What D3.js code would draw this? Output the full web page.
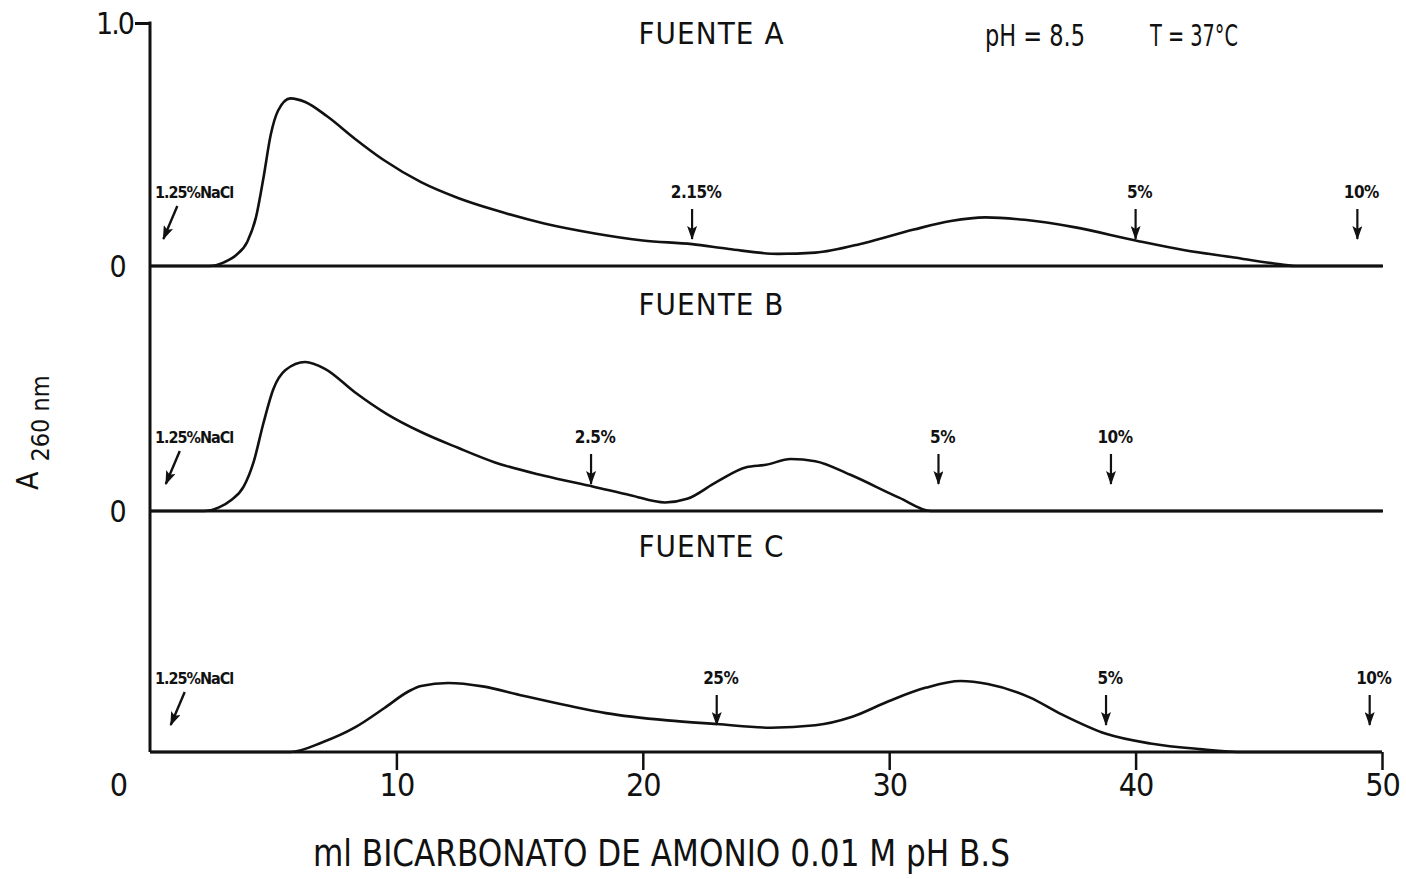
<!DOCTYPE html>
<html lang="es">
<head>
<meta charset="UTF-8">
<title>Fuentes A, B, C - A 260 nm</title>
<script src="https://d3js.org/d3.v7.min.js"></script>
<style>
  html, body { margin: 0; padding: 0; background: #fff; }
  svg text { font-family: "Liberation Sans Narrow", "DejaVu Sans Condensed", "Liberation Sans", sans-serif; fill: #111; }
  .mark { font-weight: bold; }
</style>
</head>
<body>
<div id="chart"></div>
<script>
// ml of eluent vs absorbance at 260 nm
const sourceA = [[0,0],[2.4,0],[3.0,0.015],[3.5,0.045],[3.95,0.1],[4.3,0.2],[4.6,0.36],[4.9,0.54],[5.2,0.64],[5.7,0.69],[6.3,0.675],[7.2,0.615],[8.3,0.525],[9.5,0.435],[11,0.345],[12.5,0.28],[14,0.23],[16,0.175],[18,0.135],[20,0.105],[22,0.09],[23.5,0.07],[25.5,0.05],[27,0.055],[29,0.095],[31,0.15],[32.5,0.185],[33.9,0.2],[35.5,0.19],[37.5,0.16],[40,0.105],[42,0.065],[44,0.035],[45.5,0.012],[46.5,0],[50,0]];
const sourceB = [[0,0],[2.2,0],[2.8,0.015],[3.3,0.045],[3.8,0.1],[4.2,0.2],[4.6,0.36],[5.0,0.5],[5.5,0.58],[6.3,0.613],[7.1,0.585],[8.3,0.49],[9.6,0.4],[11,0.325],[12.5,0.26],[14,0.2],[16,0.145],[18,0.1],[19.5,0.065],[20.9,0.035],[21.8,0.05],[23,0.12],[24.2,0.18],[25,0.19],[26,0.214],[27,0.205],[28.4,0.15],[30.4,0.055],[31.7,0],[50,0]];
const sourceC = [[0,0],[5.7,0],[7,0.04],[8.3,0.1],[9.5,0.18],[10.5,0.25],[11,0.272],[12.1,0.284],[13.5,0.27],[15,0.235],[17,0.19],[18.5,0.16],[21,0.13],[23,0.115],[25.2,0.1],[27,0.11],[28.5,0.145],[30,0.21],[31.5,0.265],[32.9,0.292],[34,0.28],[35.7,0.225],[37,0.155],[38.8,0.075],[40.6,0.035],[42.6,0.012],[44.4,0],[50,0]];

const panelNames = ["FUENTE A", "FUENTE B", "FUENTE C"];
const panelData = [sourceA, sourceB, sourceC];

// arrow marks: label and ml position
const marksA = [["1.25%NaCl", 0.5], ["2.15%", 22], ["5%", 40], ["10%", 49]];
const marksB = [["1.25%NaCl", 0.6], ["2.5%", 17.9], ["5%", 32], ["10%", 39]];
const marksC = [["1.25%NaCl", 0.8], ["25%", 23], ["5%", 38.8], ["10%", 49.5]];
const panelMarks = [marksA, marksB, marksC];

const xTicks = [0, 10, 20, 30, 40, 50];
const xLabel = "ml BICARBONATO DE AMONIO 0.01 M pH B.S";

const W = 1406, H = 879;
const x0 = 150, x1 = 1382;
const bases = [266, 511, 752];   // baseline of each panel
const titleY = [44, 315, 557];
const unit = 243;                // px for 1.0 absorbance

const svg = d3.select("#chart").append("svg")
  .attr("width", W).attr("height", H);

svg.append("defs").append("marker")
  .attr("id", "head")
  .attr("viewBox", "0 0 14 10")
  .attr("refX", 13).attr("refY", 5)
  .attr("markerWidth", 14).attr("markerHeight", 10)
  .attr("markerUnits", "userSpaceOnUse")
  .attr("orient", "auto")
  .append("path").attr("d", "M0,0 L3,5 L0,10 L14,5 Z").attr("fill", "#111");

const x = d3.scaleLinear().domain([0, 50]).range([x0, x1]);
const ys = bases.map(b => d3.scaleLinear().domain([0, 1]).range([b, b - unit]));

// left axis line, one spine for all three panels
svg.append("line")
  .attr("x1", x0).attr("x2", x0)
  .attr("y1", ys[0](1) - 1.5).attr("y2", bases[2])
  .attr("stroke", "#111").attr("stroke-width", 3);

// top tick 1.0
svg.append("g")
  .attr("transform", `translate(${x0},0)`)
  .call(d3.axisLeft(ys[0]).tickValues([1]).tickSize(15).tickFormat(d3.format(".1f")))
  .call(g => g.select(".domain").remove())
  .call(g => g.selectAll("line").attr("stroke", "#111").attr("stroke-width", 3))
  .call(g => g.selectAll("text").attr("x", -17).attr("dy", "0.36em")
     .attr("font-size", 30).attr("font-family", null).attr("letter-spacing", -2));

// zero labels of panels A and B
bases.slice(0, 2).forEach(b => {
  svg.append("text").attr("x", 118).attr("y", b).attr("dy", "0.36em")
    .attr("text-anchor", "middle").attr("font-size", 30).text("0");
});

// bottom axis
svg.append("g")
  .attr("transform", `translate(0,${bases[2]})`)
  .call(d3.axisBottom(x).tickValues(xTicks).tickSize(18).tickFormat(d3.format("d")))
  .call(g => g.select(".domain").attr("stroke", "#111").attr("stroke-width", 3).attr("d", `M${x0},0H${x1}`))
  .call(g => g.selectAll(".tick line").attr("stroke", "#111").attr("stroke-width", 2.5))
  .call(g => g.selectAll(".tick").filter(d => d === 0).select("line").remove())
  .call(g => g.selectAll(".tick").filter(d => d === 0).select("text").attr("x", 118 - x0))
  .call(g => g.selectAll(".tick text").attr("y", 32).attr("dy", "0.36em")
     .attr("font-size", 32).attr("font-family", null).attr("letter-spacing", -1));

// baselines of panels A and B
bases.slice(0, 2).forEach(b => {
  svg.append("line").attr("x1", x0).attr("x2", x1 + 1).attr("y1", b).attr("y2", b)
    .attr("stroke", "#111").attr("stroke-width", 3);
});

const line = d3.line().curve(d3.curveMonotoneX);

panelData.forEach((data, i) => {
  const y = ys[i];
  svg.append("path")
    .attr("d", line.x(d => x(d[0])).y(d => y(d[1]))(data))
    .attr("fill", "none").attr("stroke", "#111").attr("stroke-width", 2.6)
    .attr("stroke-linejoin", "round");

  // panel title
  svg.append("text")
    .attr("x", 711).attr("y", titleY[i])
    .attr("text-anchor", "middle").attr("font-size", 31)
    .attr("textLength", 145).attr("lengthAdjust", "spacing")
    .text(panelNames[i]);

  // arrows and labels
  panelMarks[i].forEach(([lab, ml], k) => {
    const b = bases[i];
    const xp = x(ml);
    if (k === 0) {
      svg.append("line").attr("x1", xp + 15).attr("y1", b - 60).attr("x2", xp + 1).attr("y2", b - 27)
        .attr("stroke", "#111").attr("stroke-width", 2.4).attr("marker-end", "url(#head)");
      svg.append("text").attr("class", "mark").attr("x", 155).attr("y", b - 68)
        .attr("font-size", 16).attr("letter-spacing", -1).text(lab);
    } else {
      svg.append("line").attr("x1", xp).attr("y1", b - 57).attr("x2", xp).attr("y2", b - 27)
        .attr("stroke", "#111").attr("stroke-width", 2.2).attr("marker-end", "url(#head)");
      svg.append("text").attr("class", "mark").attr("x", xp + 4).attr("y", b - 68)
        .attr("text-anchor", "middle").attr("font-size", 17).attr("letter-spacing", -0.5).text(lab);
    }
  });
});

// conditions
svg.append("text").attr("x", 985).attr("y", 46).attr("font-size", 31)
  .attr("textLength", 100).attr("lengthAdjust", "spacingAndGlyphs").text("pH = 8.5");
svg.append("text").attr("x", 1150).attr("y", 46).attr("font-size", 31)
  .attr("textLength", 88).attr("lengthAdjust", "spacingAndGlyphs").text("T = 37°C");

// axis titles
const yl = svg.append("text").attr("transform", "translate(38,490) rotate(-90)").attr("font-size", 30);
yl.append("tspan").text("A");
yl.append("tspan").attr("dx", 10).attr("dy", 11).attr("font-size", 25).text("260 nm");

svg.append("text").attr("x", 313).attr("y", 866).attr("font-size", 38)
  .attr("textLength", 697).attr("lengthAdjust", "spacingAndGlyphs").text(xLabel);
</script>
</body>
</html>
